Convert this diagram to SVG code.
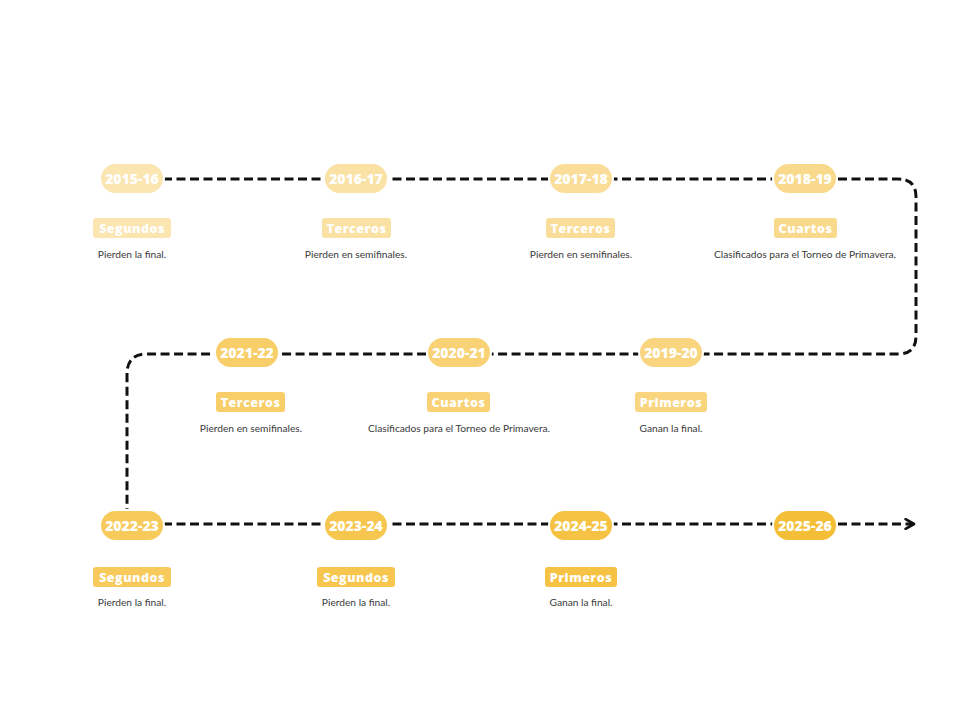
<svg xmlns="http://www.w3.org/2000/svg" width="955" height="716" viewBox="0 0 955 716">
<defs>
<style>
.pill{stroke:#fff;stroke-width:2}
.yr{font-family:"Open Sans","Liberation Sans",sans-serif;font-weight:800;font-size:14px;fill:#fff;text-anchor:middle}
.bd{font-family:"Open Sans","Liberation Sans",sans-serif;font-weight:800;font-size:12.5px;fill:#fff;text-anchor:middle;letter-spacing:0.5px}
.ds{font-family:"Lato","Liberation Sans",sans-serif;font-size:10.2px;fill:#3a3a3a;text-anchor:middle}
.ln{fill:none;stroke:#111;stroke-width:3;stroke-dasharray:9 4.5}
</style>
<marker id="arr" viewBox="0 0 10 10" refX="8" refY="5" markerWidth="4" markerHeight="4" orient="auto" markerUnits="strokeWidth">
<path d="M1,1 L8,5 L1,9" fill="none" stroke="#111" stroke-width="2.2" stroke-linecap="round" stroke-linejoin="round"/>
</marker>
</defs>
<rect width="955" height="716" fill="#fff"/>
<g id="connectors">
<path class="ln" d="M163 179 H898 Q916 179 916 197 V336 Q916 354 898 354 H147 Q127 354 127 374 V511"/>
<path class="ln" d="M163 524 H914" marker-end="url(#arr)"/>
</g>
<g id="n2015">
<rect class="pill" x="100" y="163" width="64" height="31" rx="15.5" fill="#FBE5B0"/>
<text class="yr" x="132" y="184">2015-16</text>
<rect x="93" y="218" width="78" height="20" rx="3" fill="#FBE5B0"/>
<text class="bd" x="132" y="232.5">Segundos</text>
<text class="ds" x="132" y="258">Pierden la final.</text>
</g>
<g id="n2016">
<rect class="pill" x="324" y="163" width="64" height="31" rx="15.5" fill="#FAE1A4"/>
<text class="yr" x="356" y="184">2016-17</text>
<rect x="322" y="218" width="69" height="20" rx="3" fill="#FAE1A4"/>
<text class="bd" x="356.5" y="232.5">Terceros</text>
<text class="ds" x="356" y="258">Pierden en semifinales.</text>
</g>
<g id="n2017">
<rect class="pill" x="549" y="163" width="64" height="31" rx="15.5" fill="#FADD98"/>
<text class="yr" x="581" y="184">2017-18</text>
<rect x="546" y="218" width="69" height="20" rx="3" fill="#FADD98"/>
<text class="bd" x="580.5" y="232.5">Terceros</text>
<text class="ds" x="581" y="258">Pierden en semifinales.</text>
</g>
<g id="n2018">
<rect class="pill" x="773" y="163" width="64" height="31" rx="15.5" fill="#F9D98C"/>
<text class="yr" x="805" y="184">2018-19</text>
<rect x="774" y="218" width="63" height="20" rx="3" fill="#F9D98C"/>
<text class="bd" x="805.5" y="232.5">Cuartos</text>
<text class="ds" x="805" y="258">Clasificados para el Torneo de Primavera.</text>
</g>
<g id="n2019">
<rect class="pill" x="639" y="337" width="64" height="31" rx="15.5" fill="#F9D580"/>
<text class="yr" x="671" y="358">2019-20</text>
<rect x="635" y="392" width="72" height="20" rx="3" fill="#F9D580"/>
<text class="bd" x="671" y="406.5">Primeros</text>
<text class="ds" x="671" y="432">Ganan la final.</text>
</g>
<g id="n2020">
<rect class="pill" x="427" y="337" width="64" height="31" rx="15.5" fill="#F8D274"/>
<text class="yr" x="459" y="358">2020-21</text>
<rect x="427" y="392" width="63" height="20" rx="3" fill="#F8D274"/>
<text class="bd" x="458.5" y="406.5">Cuartos</text>
<text class="ds" x="459" y="432">Clasificados para el Torneo de Primavera.</text>
</g>
<g id="n2021">
<rect class="pill" x="215" y="337" width="64" height="31" rx="15.5" fill="#F7CE67"/>
<text class="yr" x="247" y="358">2021-22</text>
<rect x="216" y="392" width="69" height="20" rx="3" fill="#F7CE67"/>
<text class="bd" x="250.5" y="406.5">Terceros</text>
<text class="ds" x="251" y="432">Pierden en semifinales.</text>
</g>
<g id="n2022">
<rect class="pill" x="100" y="510" width="64" height="31" rx="15.5" fill="#F7CA5B"/>
<text class="yr" x="132" y="531">2022-23</text>
<rect x="93" y="567" width="78" height="20" rx="3" fill="#F7CA5B"/>
<text class="bd" x="132" y="581.5">Segundos</text>
<text class="ds" x="132" y="606">Pierden la final.</text>
</g>
<g id="n2023">
<rect class="pill" x="324" y="510" width="64" height="31" rx="15.5" fill="#F6C64F"/>
<text class="yr" x="356" y="531">2023-24</text>
<rect x="317" y="567" width="78" height="20" rx="3" fill="#F6C64F"/>
<text class="bd" x="356" y="581.5">Segundos</text>
<text class="ds" x="356" y="606">Pierden la final.</text>
</g>
<g id="n2024">
<rect class="pill" x="549" y="510" width="64" height="31" rx="15.5" fill="#F6C243"/>
<text class="yr" x="581" y="531">2024-25</text>
<rect x="545" y="567" width="72" height="20" rx="3" fill="#F6C243"/>
<text class="bd" x="581" y="581.5">Primeros</text>
<text class="ds" x="581" y="606">Ganan la final.</text>
</g>
<g id="n2025">
<rect class="pill" x="773" y="510" width="64" height="31" rx="15.5" fill="#F5BE37"/>
<text class="yr" x="805" y="531">2025-26</text>
</g>
</svg>
